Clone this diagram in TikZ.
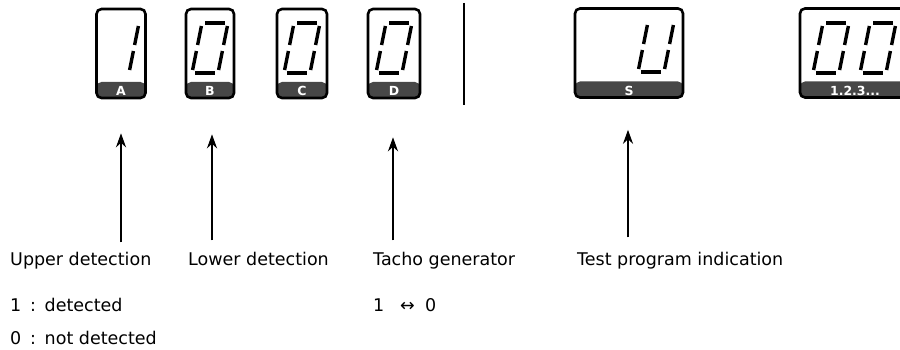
\documentclass[tikz,border=0pt]{standalone}
\usepackage{fontspec}
\setmainfont{DejaVu Sans}
\usetikzlibrary{arrows.meta}

\tikzset{
  segline/.style={line width=3.4pt, line cap=butt},
  disp/.style={draw, line width=2.6pt, rounded corners=5pt, minimum height=89pt,
    path picture={\fill[black!72] (path picture bounding box.south west)
      rectangle ([yshift=16pt]path picture bounding box.south east);}},
  bandtxt/.style={text=white, font=\bfseries\fontsize{12.5}{14}\selectfont, inner sep=0pt},
  lbl/.style={anchor=base west, inner sep=0pt, font=\fontsize{17.5}{21}\selectfont}
}

% one digit of seven segments, #1 origin, #2 segments that are lit
\newcommand{\sevenseg}[2]{%
  \begin{scope}[shift={#1}, xslant=0.2]
    \coordinate (a1) at (3,50);  \coordinate (a2) at (23,50);
    \coordinate (b1) at (26,47); \coordinate (b2) at (26,28);
    \coordinate (c1) at (26,22); \coordinate (c2) at (26,3);
    \coordinate (d1) at (3,0);   \coordinate (d2) at (23,0);
    \coordinate (e1) at (0,22);  \coordinate (e2) at (0,3);
    \coordinate (f1) at (0,47);  \coordinate (f2) at (0,28);
    \foreach \s in {#2} {\draw[segline] (\s1) -- (\s2);}
  \end{scope}}

\begin{document}
\begin{tikzpicture}[x=1pt,y=1pt,>={Stealth[length=14pt,width=10pt]}]
    \useasboundingbox (0,0) rectangle (900,350);
    \clip (0,0) rectangle (900,350);

    % displays
    \node (dA) [disp, minimum width=49pt] at (121,296.5) {};
    \node (dB) [disp, minimum width=48pt] at (210,296.5) {};
    \node (dC) [disp, minimum width=50pt] at (302,296.5) {};
    \node (dD) [disp, minimum width=52pt] at (394,296.5) {};
    \node (dS) [disp, minimum width=108pt] at (629,297) {};
    \node (dN) [disp, minimum width=110pt] at (855,297) {};

    \node (lA) [bandtxt] at ([yshift=8pt]dA.south) {A};
    \node (lB) [bandtxt] at ([yshift=8pt]dB.south) {B};
    \node (lC) [bandtxt] at ([yshift=8pt]dC.south) {C};
    \node (lD) [bandtxt] at ([yshift=8pt]dD.south) {D};
    \node (lS) [bandtxt] at ([yshift=8pt]dS.south) {S};
    \node (lN) [bandtxt] at ([yshift=8pt]dN.south) {1.2.3...};

    % digits
    \sevenseg{(103,277)}{b,c}
    \sevenseg{(192,277)}{a,b,c,d,e,f}
    \sevenseg{(284,277)}{a,b,c,d,e,f}
    \sevenseg{(376,277)}{a,b,c,d,e,f}
    \sevenseg{(638,278)}{b,c,d,e,f}
    \sevenseg{(813,277)}{a,b,c,d,e,f}
    \sevenseg{(860,277)}{a,b,c,d,e,f}

    % separator
    \coordinate (sepT) at (464,347);
    \coordinate (sepB) at (464,245);
    \draw[line width=2.4pt] (sepT) -- (sepB);

    % texts
    \node (upper) [lbl] at (10,84) {Upper detection};
    \node (lower) [lbl] at (188,84) {Lower detection};
    \node (tacho) [lbl] at (373,84) {Tacho generator};
    \node (test) [lbl] at (577,84) {Test program indication};
    \node (one) [lbl] at (10,38) {1\enspace:\enspace detected};
    \node (zero) [lbl] at (10,5) {0\enspace:\enspace not detected};
    \node (swap) [lbl] at (373,38) {1\hspace{0.9em}↔\hspace{0.6em}0};

    % arrows
    \draw[->, line width=2.2pt, shorten <=10pt, shorten >=34pt] (dA.south |- upper.north) -- (dA.south);
    \draw[->, line width=2.2pt, shorten <=12pt, shorten >=35pt] ([xshift=2pt]dB.south |- lower.north) -- ([xshift=2pt]dB.south);
    \draw[->, line width=2.2pt, shorten <=12pt, shorten >=38pt] ([xshift=-1pt]dD.south |- tacho.north) -- ([xshift=-1pt]dD.south);
    \draw[->, line width=2.2pt, shorten <=15pt, shorten >=31pt] ([xshift=-1pt]dS.south |- test.north) -- ([xshift=-1pt]dS.south);
\end{tikzpicture}
\end{document}
